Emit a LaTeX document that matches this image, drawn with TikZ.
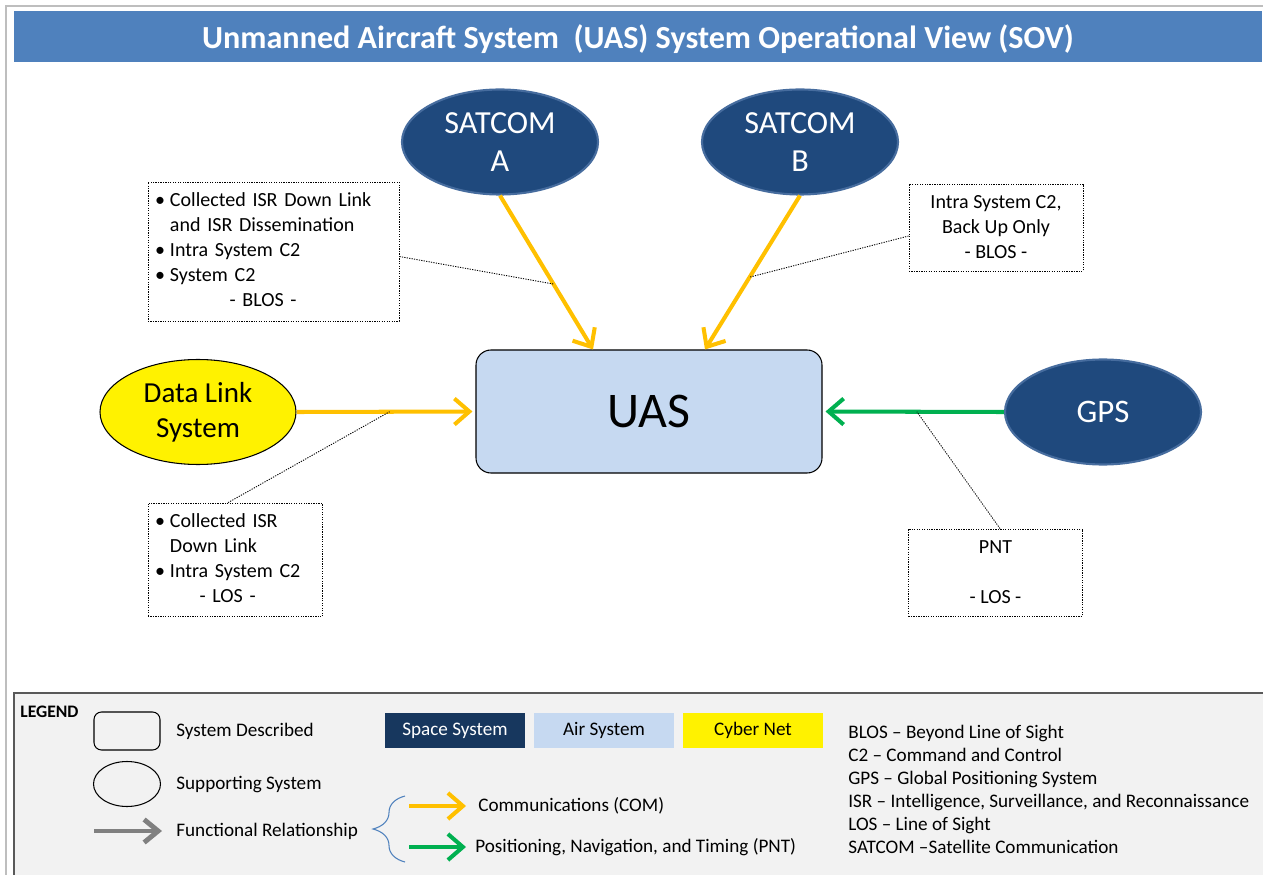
\documentclass[tikz,border=0pt]{standalone}
\usepackage{fontspec}
\setmainfont{Carlito}
\usetikzlibrary{shapes.geometric,arrows.meta,decorations.pathreplacing}

\definecolor{titleblue}{RGB}{79,129,189}
\definecolor{spaceblue}{RGB}{31,73,125}
\definecolor{spacerim}{RGB}{70,108,158}
\definecolor{swatchblue}{RGB}{23,55,94}
\definecolor{airblue}{RGB}{198,217,241}
\definecolor{comorange}{RGB}{255,192,0}
\definecolor{pntgreen}{RGB}{0,176,80}
\definecolor{legendgray}{RGB}{242,242,242}
\definecolor{framegray}{RGB}{190,190,190}
\definecolor{bracecol}{RGB}{79,129,189}

\tikzset{
	spacesys/.style={ellipse, fill=spaceblue, draw=spacerim, line width=1.2pt, text=white,
		minimum width=3.92cm, minimum height=2.1cm, align=center, font=\fontsize{18.3}{22}\selectfont},
	cybersys/.style={ellipse, fill=yellow, draw=black, line width=0.6pt,
		minimum width=3.92cm, minimum height=2.1cm, align=center, font=\fontsize{16.5}{19.8}\selectfont},
	airsys/.style={rectangle, rounded corners=0.3cm, fill=airblue, draw=black, line width=0.6pt,
		minimum width=6.92cm, minimum height=2.46cm, font=\fontsize{28.4}{33}\selectfont},
	notebox/.style={draw, line width=0.5pt, dash pattern=on 0.7pt off 0.7pt, inner sep=0.14cm,
		font=\fontsize{11.4}{14.2}\selectfont},
	leader/.style={line width=0.5pt, dash pattern=on 0.7pt off 0.7pt},
	comlink/.style={draw=comorange, line width=2.3pt, -{Straight Barb[length=0.3cm,width=0.52cm]}},
	pntlink/.style={draw=pntgreen, line width=2.3pt, -{Straight Barb[length=0.3cm,width=0.52cm]}},
	funcarrow/.style={draw=gray, line width=2.8pt, -{Straight Barb[length=0.28cm,width=0.46cm]}},
	legtext/.style={anchor=west, inner sep=0pt, font=\fontsize{10.9}{12.5}\selectfont},
	swatch/.style={minimum width=2.8cm, minimum height=0.7cm, inner sep=0pt, font=\fontsize{10.9}{12.5}\selectfont}
}

\begin{document}
\begin{tikzpicture}
	\useasboundingbox (0,0) rectangle (25.26,-17.5);
	% frame and title bar
	\draw[framegray, line width=1.2pt] (0.12,-17.6) |- (25.4,-0.12);
	\fill[titleblue] (0.28,-0.22) rectangle (25.24,-1.24);
	\node[text=white, font=\fontsize{18.3}{22}\bfseries\selectfont] (head) at (12.76,-0.78)
		{Unmanned Aircraft System\ \ (UAS) System Operational View (SOV)};

	% systems
	\node[spacesys] (satA) at (10.0,-2.84) {SATCOM\\A};
	\node[spacesys] (satB) at (16.0,-2.84) {SATCOM\\B};
	\node[airsys] (uas) at (12.98,-8.23) {UAS};
	\node[cybersys] (dls) at (3.96,-8.24) {Data Link\\System};
	\node[spacesys, font=\fontsize{18.7}{22}\selectfont] (gps) at (22.06,-8.24) {GPS};

	\coordinate (uasA) at ([xshift=-1.12cm]uas.north);
	\coordinate (uasB) at ([xshift=1.12cm]uas.north);

	% links
	\draw[comlink] (satA.south) -- coordinate[pos=0.575] (tapA) (uasA);
	\draw[comlink] (satB.south) -- coordinate[pos=0.53] (tapB) (uasB);
	\draw[comlink, shorten >=0.06cm] (dls.east) -- coordinate[pos=0.52] (tapC) (uas.west);
	\draw[pntlink, shorten >=0.06cm] (gps.west) -- coordinate[pos=0.48] (tapD) (uas.east);

	% notes
	\node[notebox, text width=4.74cm, minimum height=2.78cm, align=left] (noteA) at (5.47,-5.03)
		{\begin{tabular}{@{}l@{\hspace{0.1cm}}l@{}}
			\textbullet & Collected ISR Down Link\\
			& and ISR Dissemination\\
			\textbullet & Intra System C2\\
			\textbullet & System C2\\
			\multicolumn{2}{c}{- BLOS -}
		\end{tabular}};
	\node[notebox, minimum width=3.48cm, minimum height=1.74cm, align=center] (noteB) at (19.92,-4.55)
		{Intra System C2,\\Back Up Only\\- BLOS -};
	\node[notebox, text width=3.2cm, minimum height=2.24cm, align=left] (noteC) at (4.7,-11.2)
		{\begin{tabular}{@{}l@{\hspace{0.1cm}}l@{}}
			\textbullet & Collected ISR\\
			& Down Link\\
			\textbullet & Intra System C2\\
			\multicolumn{2}{c}{- LOS -}
		\end{tabular}};
	\node[notebox, minimum width=3.48cm, minimum height=1.74cm, align=center] (noteD) at (19.91,-11.45)
		{PNT\\~\\- LOS -};

	\draw[leader] ([yshift=-0.1cm]noteA.east) -- (tapA);
	\draw[leader] ([yshift=-0.17cm]noteB.west) -- (tapB);
	\draw[leader] ([xshift=-0.14cm]noteC.north) -- (tapC);
	\draw[leader] ([xshift=0.09cm]noteD.north) -- (tapD);

	% legend
	\filldraw[fill=legendgray, draw=black!65, line width=0.6pt] (0.28,-13.86) rectangle (25.5,-17.8);
	\node[anchor=west, inner sep=0pt, font=\fontsize{10}{12}\bfseries\selectfont] (legtitle) at (0.4,-14.24) {LEGEND};

	\node[draw, rounded corners=0.15cm, line width=0.6pt, minimum width=1.32cm, minimum height=0.76cm] (legsys) at (2.54,-14.62) {};
	\node[draw, ellipse, line width=0.6pt, minimum width=1.34cm, minimum height=0.9cm] (legsup) at (2.54,-15.68) {};
	\coordinate (legfa) at (1.88,-16.62);
	\coordinate (legfb) at (3.24,-16.62);
	\draw[funcarrow] (legfa) -- (legfb);
	\node[legtext] (legsystxt) at (3.52,-14.62) {System Described};
	\node[legtext] (legsuptxt) at (3.52,-15.7) {Supporting System};
	\node[legtext] (legfunctxt) at (3.52,-16.62) {Functional Relationship};

	\coordinate (bracelo) at (8.1,-17.24);
	\coordinate (braceup) at (8.1,-15.92);
	\draw[bracecol, line width=0.6pt, decorate, decoration={brace, amplitude=0.64cm}] (bracelo) -- (braceup);

	\coordinate (legca) at (8.18,-16.12);
	\coordinate (legcb) at (9.32,-16.12);
	\coordinate (legpa) at (8.18,-16.94);
	\coordinate (legpb) at (9.32,-16.94);
	\draw[comlink] (legca) -- (legcb);
	\draw[pntlink] (legpa) -- (legpb);
	\node[legtext] (legcomtxt) at (9.56,-16.12) {Communications (COM)};
	\node[legtext] (legpnttxt) at (9.5,-16.94) {Positioning, Navigation, and Timing (PNT)};

	\node[swatch, fill=swatchblue, text=white] (legspace) at (9.1,-14.61) {Space System};
	\node[swatch, fill=airblue] (legair) at (12.08,-14.61) {Air System};
	\node[swatch, fill=yellow] (legcyber) at (15.06,-14.61) {Cyber Net};

	\node[legtext, align=left, font=\fontsize{10.9}{13.1}\selectfont] (abbrev) at (16.96,-15.78)
		{BLOS – Beyond Line of Sight\\
		C2 – Command and Control\\
		GPS – Global Positioning System\\
		ISR – Intelligence, Surveillance, and Reconnaissance\\
		LOS – Line of Sight\\
		SATCOM –Satellite Communication};
\end{tikzpicture}
\end{document}
